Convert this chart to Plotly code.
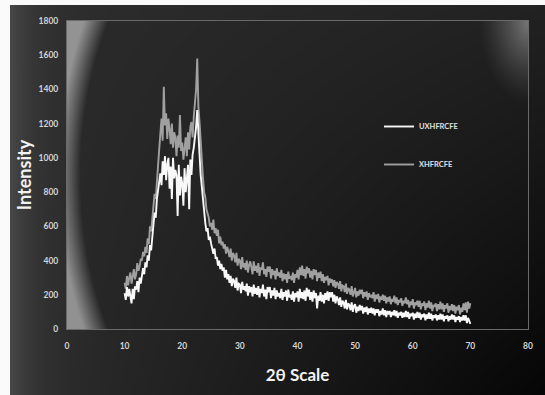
import base64
import struct
import zlib

import numpy as np
import plotly.graph_objects as go

# 2-theta scan grid (degrees) and measured intensities
two_theta = np.round(np.arange(10.0, 70.001, 0.2), 2)

uxhfrcfe = [
    210, 170, 245, 190, 235,   200, 150, 235, 175, 250,   230, 280, 215, 300, 265,
    310, 355, 320, 390, 360,   430, 400, 490, 460, 560,   610, 680, 650, 760, 830,
    860, 910, 840, 980, 900,   1010, 870, 960, 1000, 820,   950, 760, 1000, 880, 930,
    900, 660, 960, 780, 890,   850, 720, 940, 800, 880,   960, 700, 990, 900, 1020,
    1060, 1120, 1180, 1280, 1110,   1020, 900, 820, 740, 660,   620, 570, 590, 520, 540,
    500, 470, 440, 470, 410,   420, 370, 400, 350, 380,   340, 360, 300, 345, 290,
    320, 270, 310, 250, 295,   280, 240, 300, 225, 265,   260, 210, 275, 230, 250,
    220, 265, 195, 250, 215,   245, 190, 260, 205, 240,   200, 250, 185, 235, 210,
    260, 190, 230, 175, 245,   215, 245, 180, 225, 195,   240, 175, 225, 190, 210,
    180, 235, 170, 215, 190,   225, 165, 230, 185, 200,   170, 220, 160, 210, 185,
    220, 160, 235, 180, 215,   175, 225, 165, 240, 190,   230, 170, 215, 160, 225,
    180, 210, 120, 195, 165,   215, 160, 200, 150, 210,   170, 220, 165, 215, 185,
    215, 160, 200, 150, 190,   175, 140, 185, 130, 165,   155, 120, 170, 115, 150,
    140, 110, 155, 100, 135,   145, 95, 130, 105, 140,   110, 135, 90, 125, 100,
    130, 85, 120, 95, 125,   90, 120, 80, 115, 95,   115, 75, 105, 85, 120,
    80, 110, 70, 105, 85,   105, 70, 100, 80, 110,   75, 105, 65, 95, 80,
    100, 65, 95, 70, 105,   70, 100, 60, 90, 75,   95, 55, 90, 65, 100,
    65, 95, 55, 85, 70,   90, 50, 85, 60, 95,   60, 90, 50, 80, 65,
    85, 50, 80, 55, 90,   55, 85, 45, 75, 60,   80, 45, 75, 55, 85,
    55, 80, 40, 70, 55,   75, 40, 70, 50, 80,   50, 80, 35, 65, 45,
    30,
]

xhfrcfe = [
    270, 235, 310, 255, 300,   330, 265, 300, 350, 290,   320, 385, 340, 365, 410,
    400, 450, 425, 480, 445,   530, 495, 600, 570, 640,   700, 790, 760, 880, 960,
    1050, 1140, 1230, 1100, 1415,   1190, 1260, 1110, 1230, 1170,   1080, 1200, 1060, 1150, 1120,
    1010, 1130, 1060, 1250, 1040,   1090, 990, 1070, 1120, 1010,   1150, 1050, 1180, 1210, 1120,
    1240, 1310, 1400, 1580, 1300,   1210, 1080, 960, 880, 800,   770, 700, 680, 650, 600,
    620, 580, 640, 560, 590,   545, 580, 500, 540, 490,   510, 470, 495, 440, 480,
    455, 420, 470, 400, 445,   430, 390, 445, 370, 410,   400, 350, 420, 360, 385,
    345, 400, 330, 375, 395,   360, 320, 395, 340, 370,   330, 385, 310, 360, 345,
    390, 320, 350, 305, 365,   335, 365, 295, 350, 315,   340, 290, 355, 310, 330,
    300, 345, 280, 325, 290,   320, 270, 335, 295, 310,   285, 330, 270, 320, 300,
    345, 290, 360, 315, 370,   310, 350, 295, 365, 325,   355, 300, 340, 290, 350,
    315, 345, 280, 330, 300,   335, 280, 320, 270, 305,   285, 310, 255, 295, 270,
    290, 250, 285, 240, 275,   265, 235, 280, 220, 255,   250, 215, 265, 205, 240,
    230, 200, 250, 190, 225,   240, 185, 220, 195, 230,   205, 230, 180, 215, 190,
    220, 170, 210, 185, 200,   180, 215, 160, 200, 175,   205, 155, 190, 170, 200,
    165, 195, 150, 185, 160,   190, 145, 175, 160, 195,   150, 185, 140, 170, 155,
    180, 135, 165, 150, 185,   145, 170, 125, 160, 140,   175, 120, 155, 140, 165,
    130, 165, 115, 150, 135,   160, 110, 150, 125, 165,   120, 155, 105, 140, 130,
    150, 105, 145, 115, 160,   115, 150, 100, 140, 120,   150, 95, 135, 110, 145,
    105, 140, 90, 130, 110,   140, 85, 125, 100, 150,   110, 155, 95, 160, 120,
    150,
]

x_ticks = [0, 10, 20, 30, 40, 50, 60, 70, 80]
y_ticks = [0, 200, 400, 600, 800, 1000, 1200, 1400, 1600, 1800]

W, H = 545, 395
ML, MR, MT, MB = 67, 17, 21, 66
PW, PH = W - ML - MR, H - MT - MB
FONT = "Lato"


def backdrop():
    """Dark panel with soft lighting, as a grayscale PNG data URI."""
    yy, xx = np.mgrid[0:H, 0:W].astype(float)
    img = np.full((H, W), 250.0)
    fx = (xx - 10) / (W - 10)
    fy = (yy - 5) / (H - 5)
    panel = 46 - 12 * fx - 28 * fx * fy + 26 * np.exp(-(xx - 10) / 22)
    mask = (xx >= 10) & (yy >= 5)
    img[mask] = panel[mask]

    # plot area: dark centre, lighter rim on the left and in the top-right corner
    cx, cy, rx, ry = 310, 175, 230, 322
    s = np.sqrt(((xx - cx) / rx) ** 2 + ((yy - cy) / ry) ** 2) - 1
    glow_left = np.where(xx < cx, np.clip(s * 1100, 0, 105), 0)
    d = np.sqrt((xx - (W - MR)) ** 2 + ((yy - MT) * 0.6) ** 2)
    glow_corner = 85 * np.clip(1 - d / 50, 0, 1) ** 1.3
    area = 44 - 10 * fx - 26 * fx * fy + glow_left + glow_corner
    inside = (xx >= ML) & (xx < W - MR) & (yy >= MT) & (yy < H - MB)
    img[inside] = area[inside]

    px = np.clip(img, 0, 255).astype(np.uint8)
    raw = b"".join(b"\x00" + px[r].tobytes() for r in range(H))

    def chunk(tag, data):
        body = tag + data
        return struct.pack(">I", len(data)) + body + struct.pack(">I", zlib.crc32(body) & 0xFFFFFFFF)

    png = (b"\x89PNG\r\n\x1a\n"
           + chunk(b"IHDR", struct.pack(">IIBBBBB", W, H, 8, 0, 0, 0, 0))
           + chunk(b"IDAT", zlib.compress(raw, 9))
           + chunk(b"IEND", b""))
    return "data:image/png;base64," + base64.b64encode(png).decode()


fig = go.Figure()
fig.add_trace(go.Scatter(
    x=two_theta, y=xhfrcfe, mode="lines", name="XHFRCFE", legendgroup="b", legendrank=2,
    line=dict(color="#a0a0a0", width=1.9),
))
fig.add_trace(go.Scatter(
    x=two_theta, y=uxhfrcfe, mode="lines", name="UXHFRCFE", legendgroup="a", legendrank=1,
    line=dict(color="#f8f8f8", width=1.9),
))

tick_font = dict(family=FONT, size=8.5, color="#d4d4d4", weight="bold")
axis_common = dict(showgrid=False, zeroline=False, showline=True, linecolor="#6a6a6a",
                   linewidth=1, mirror=True, ticks="", tickfont=tick_font)

fig.update_layout(
    width=W, height=H, autosize=False,
    margin=dict(l=ML, r=MR, t=MT, b=MB),
    paper_bgcolor="white", plot_bgcolor="rgba(0,0,0,0)",
    xaxis=dict(range=[0, 80], tickvals=x_ticks, ticklabelstandoff=9,
               title=dict(text="2θ Scale", standoff=18,
                          font=dict(family=FONT, size=17, color="#f2f2f2", weight="bold")),
               **axis_common),
    yaxis=dict(range=[0, 1800], tickvals=y_ticks, ticklabelstandoff=6,
               title=dict(text="Intensity", standoff=2,
                          font=dict(family=FONT, size=18, color="#f2f2f2", weight="bold")),
               **axis_common),
    legend=dict(x=(379 - ML) / PW, y=(H - MB - 112) / PH, xanchor="left", yanchor="top",
                bgcolor="rgba(0,0,0,0)", borderwidth=0,
                traceorder="grouped", tracegroupgap=19, itemwidth=30,
                font=dict(family=FONT, size=7.5, color="#e0e0e0", weight="bold")),
    images=[dict(source=backdrop(), xref="paper", yref="paper",
                 x=-ML / PW, y=1 + MT / PH, sizex=W / PW, sizey=H / PH,
                 xanchor="left", yanchor="top", sizing="stretch", layer="below")],
)

fig.write_html("out.html")
